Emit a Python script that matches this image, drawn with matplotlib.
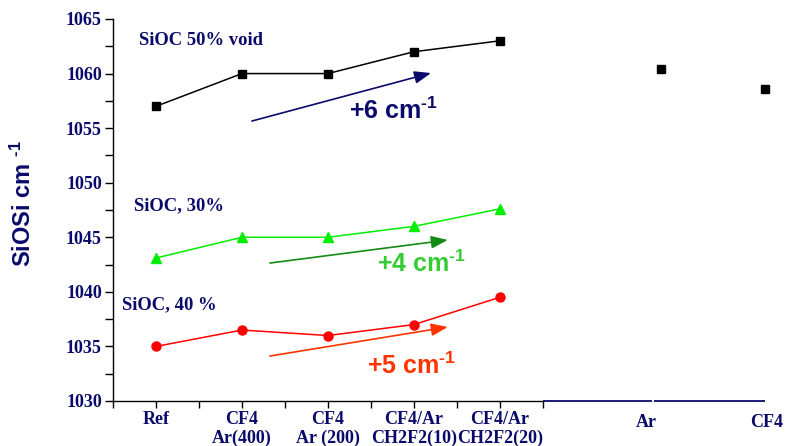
import matplotlib
matplotlib.use("Agg")
import matplotlib.pyplot as plt
from matplotlib.ticker import MultipleLocator

plt.rcParams['mathtext.fontset'] = 'custom'
plt.rcParams['mathtext.rm'] = 'Liberation Sans:bold'
plt.rcParams['mathtext.bf'] = 'Liberation Sans:bold'
plt.rcParams['mathtext.default'] = 'bf'

# ---- data ----
categories = ["Ref", "CF4\nAr(400)", "CF4\nAr (200)", "CF4/Ar\nCH2F2(10)", "CF4/Ar\nCH2F2(20)"]
extra_labels = ["Ar", "CF4"]
extra_label_pos = [5.71, 7.10]
extra_point_pos = [5.88, 7.08]
void50 = [1057.0, 1060.0, 1060.0, 1062.0, 1063.0]
void50_extra = [1060.4, 1058.6]
siov30 = [1043.1, 1045.0, 1045.0, 1046.0, 1047.6]
siov40 = [1035.0, 1036.5, 1036.0, 1037.0, 1039.5]

NAVY = '#0a0a6a'
fig = plt.figure(figsize=(7.86, 4.46), dpi=100)
ax = fig.add_axes([113/786, 1-401/446, (786-113)/786, (401-19)/446])

x = list(range(len(categories)))
ax.plot(x, void50, color='black', lw=1.1, marker='s', ms=5.5, zorder=3)
ax.plot(extra_point_pos, void50_extra, ls='none', color='black', marker='s', ms=5.5, zorder=3)
ax.plot(x, siov30, color='#00ee00', lw=1.1, marker='^', ms=7, zorder=3)
ax.plot(x, siov40, color='#ff0000', lw=1.1, marker='o', ms=6.5, zorder=3)

ax.set_xlim(-0.5, 7.33)
ax.set_ylim(1030, 1065)

# axes styling
for s in ['top', 'right']:
    ax.spines[s].set_visible(False)
ax.spines['bottom'].set_bounds(-0.5, 4.5)
ax.spines['left'].set_linewidth(1.0)
ax.spines['bottom'].set_linewidth(1.0)

ax.yaxis.set_major_locator(MultipleLocator(5))
ax.yaxis.set_minor_locator(MultipleLocator(2.5))
ax.tick_params(axis='y', which='both', direction='out', length=6, width=1, pad=2,
               labelcolor=NAVY, labelsize=13)
for t in ax.get_yticklabels():
    t.set_fontfamily('Liberation Serif'); t.set_fontweight('bold')

ax.set_xticks([-0.5, 0.5, 1.5, 2.5, 3.5, 4.5], minor=True)
ax.set_xticks(x)
ax.set_xticklabels(categories, fontfamily='Liberation Serif', fontweight='bold',
                   fontsize=13, color=NAVY, linespacing=1.15)
ax.tick_params(axis='x', which='both', direction='out', length=5, width=1, pad=2)

# navy base lines to the right of the axis
ax.hlines(1030, 4.5, 5.77, color=NAVY, lw=1.3, clip_on=False)
ax.hlines(1030, 5.80, 7.09, color=NAVY, lw=1.3, clip_on=False)
for lbl, p in zip(extra_labels, extra_label_pos):
    ax.text(p, 1028.0, lbl, ha='center', va='center', fontfamily='Liberation Serif',
            fontweight='bold', fontsize=13, color=NAVY)

# y label
fig.text(23/786, 1-204/446, r"SiOSi cm $^{\text{-1}}$", rotation=90, ha='center', va='center',
         fontfamily='Liberation Sans', fontweight='bold', fontsize=17, color=NAVY)

# series labels
ax.text(-0.2, 1063.0, "SiOC 50% void", fontfamily='Liberation Serif', fontweight='bold',
        fontsize=13.4, color=NAVY, va='center')
ax.text(-0.26, 1047.9, "SiOC, 30%", fontfamily='Liberation Serif', fontweight='bold',
        fontsize=13.4, color=NAVY, va='center')
ax.text(-0.4, 1038.8, "SiOC, 40 %", fontfamily='Liberation Serif', fontweight='bold',
        fontsize=13.4, color=NAVY, va='center')

# arrows
def arrow(x0, y0, x1, y1, c):
    ax.annotate('', xy=(x1, y1), xytext=(x0, y0),
                arrowprops=dict(arrowstyle='-|>,head_length=1.0,head_width=0.38',
                                color=c, lw=1.2, shrinkA=0, shrinkB=0))

arrow(1.116, 1055.65, 3.20, 1060.05, NAVY)
arrow(1.326, 1042.64, 3.395, 1044.75, '#158a15')
arrow(1.326, 1034.12, 3.395, 1036.78, '#ff3300')

ax.text(2.24, 1056.6, r"+6 cm$^{\text{-1}}$", fontfamily='Liberation Sans', fontweight='bold',
        fontsize=18, color=NAVY, va='center')
ax.text(2.57, 1042.6, r"+4 cm$^{\text{-1}}$", fontfamily='Liberation Sans', fontweight='bold',
        fontsize=18, color='#33cc33', va='center')
ax.text(2.45, 1033.2, r"+5 cm$^{\text{-1}}$", fontfamily='Liberation Sans', fontweight='bold',
        fontsize=18, color='#ff3300', va='center')

fig.savefig("out.png", dpi=100)
